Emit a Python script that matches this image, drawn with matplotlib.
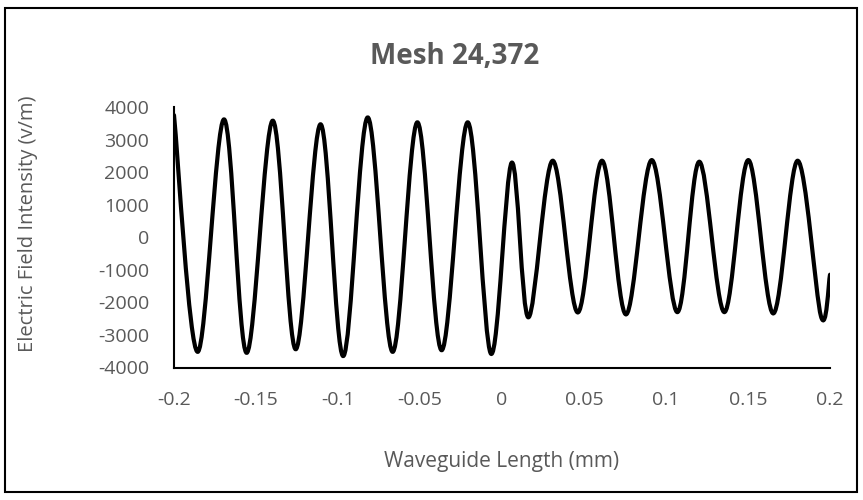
import numpy as np
import matplotlib.pyplot as plt
from matplotlib.path import Path
from matplotlib.patches import PathPatch, Rectangle

plt.rcParams['font.family'] = ['Open Sans', 'DejaVu Sans']

# extrema of the field (start, troughs/peaks, end)
length_mm = [-0.2000, -0.1856, -0.1695, -0.1557, -0.1398, -0.1258, -0.1106,
             -0.0968, -0.0819, -0.0667, -0.0516, -0.0368, -0.0209, -0.0067,
             0.0059, 0.0161, 0.0309, 0.0462, 0.0610, 0.0756, 0.0913,
             0.1069, 0.1203, 0.1356, 0.1502, 0.1654, 0.1803, 0.1945, 0.2000]
e_field = [3750, -3520, 3620, -3550, 3580, -3440, 3470,
           -3650, 3680, -3520, 3530, -3470, 3530, -3580,
           2290, -2460, 2350, -2310, 2350, -2370, 2370,
           -2300, 2320, -2300, 2370, -2340, 2350, -2430, -1150]

xticks = [-0.2, -0.15, -0.1, -0.05, 0, 0.05, 0.1, 0.15, 0.2]
xtick_labels = ['-0.2', '-0.15', '-0.1', '-0.05', '0', '0.05', '0.1', '0.15', '0.2']
yticks = [-4000, -3000, -2000, -1000, 0, 1000, 2000, 3000, 4000]


def smoothed_line(x, y, k=1/6):
    # Excel-style "smoothed line": cubic bezier through every point
    pts = np.column_stack([x, y]).astype(float)
    n = len(pts)
    verts = [pts[0]]
    codes = [Path.MOVETO]
    for i in range(n - 1):
        p0 = pts[i - 1] if i > 0 else pts[i]
        p1 = pts[i]
        p2 = pts[i + 1]
        p3 = pts[i + 2] if i + 2 < n else pts[i + 1]
        verts += [p1 + (p2 - p0) * k, p2 - (p3 - p1) * k, p2]
        codes += [Path.CURVE4] * 3
    return Path(verts, codes)


gray = '#595959'
fig = plt.figure(figsize=(8.63, 5), dpi=100)
ax = fig.add_axes([174/863, 1 - 367.5/500, (830 - 174)/863, (367.5 - 107)/500])

ax.add_patch(PathPatch(smoothed_line(length_mm, e_field), fill=False,
                       ec='black', lw=3, joinstyle='round', capstyle='round'))
ax.set_xlim(-0.2, 0.2)
ax.set_ylim(-4000, 4000)
ax.set_xticks(xticks)
ax.set_xticklabels(xtick_labels)
ax.set_yticks(yticks)
ax.set_yticklabels([str(v) for v in yticks])
ax.tick_params(length=0, labelsize=14, colors=gray)
ax.tick_params(axis='y', pad=18)
ax.tick_params(axis='x', pad=17)
for s in ['top', 'right']:
    ax.spines[s].set_visible(False)
for s in ['left', 'bottom']:
    ax.spines[s].set_linewidth(1.5)
    ax.spines[s].set_color('black')

ax.set_xlabel('Waveguide Length (mm)', fontsize=15, color=gray)
ax.set_ylabel('Electric Field Intensity (v/m)', fontsize=14.5, color=gray)
ax.xaxis.set_label_coords(0.5, (367.5 - 461) / 260.5)
ax.xaxis.label.set_va('center')
ax.yaxis.set_label_coords((28 - 174) / 656, 0.55)
ax.yaxis.label.set_va('center')
fig.text(0.527, 0.888, 'Mesh 24,372', fontsize=20, fontweight='bold',
         color=gray, ha='center', va='center')

# chart border
fig.patches.append(Rectangle((5/863, 8/500), 852/863, 484/500, transform=fig.transFigure,
                             fill=False, ec='black', lw=1.5))

fig.savefig('out.png', dpi=100)
